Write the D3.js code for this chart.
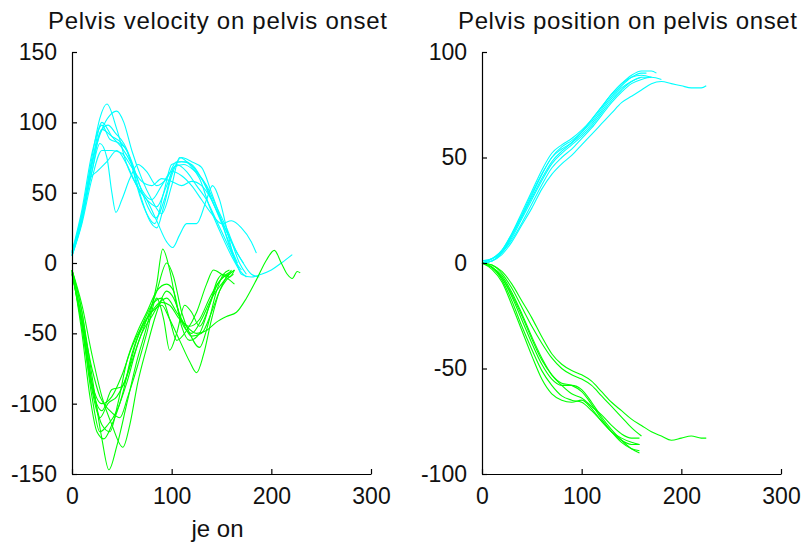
<!DOCTYPE html>
<html>
<head>
<meta charset="utf-8">
<script src="https://cdn.jsdelivr.net/npm/d3@7"></script>
<style>
  html, body { margin: 0; padding: 0; background: #fff; }
  svg { display: block; }
  text { font-family: "Liberation Sans", Arial, Helvetica, sans-serif; fill: #111; }
</style>
</head>
<body>
<svg id="chart" width="805" height="546"></svg>
<script>
// ---------- data ----------
const titles = ["Pelvis velocity on pelvis onset", "Pelvis position on pelvis onset"];
const xLabelLeft = "je on";
const xTicks = [0, 100, 200, 300];
const velTicksY = [-150, -100, -50, 0, 50, 100, 150];
const posTicksY = [-100, -50, 0, 50, 100];
const xDomain = [0, 300];
const velDomain = [-150, 150];
const posDomain = [-100, 100];
const seriesColors = ["#00ffff", "#00ff00"];

// velocity, cyan trials: [time, value]
const velCyan = [
  [[0,8],[10,35],[20,75],[28,103],[35,113],[45,95],[55,70],[65,55],[75,45],[85,40],[95,55],[105,70],[115,65],[125,55],[135,45],[145,30],[155,15],[165,0],[170,-5]],
  [[0,6],[10,30],[20,70],[30,95],[38,105],[45,108],[52,100],[60,80],[70,60],[80,45],[90,35],[100,55],[108,75],[118,70],[128,60],[138,40],[150,20],[160,5],[168,-5],[175,-10]],
  [[0,5],[10,30],[20,65],[30,95],[40,90],[50,85],[58,75],[65,55],[75,35],[83,28],[92,50],[100,70],[110,72],[120,70],[130,60],[140,45],[150,30],[160,15],[170,2],[180,-8],[188,-10]],
  [[0,5],[10,35],[20,65],[28,85],[35,75],[40,50],[44,36],[50,45],[58,60],[66,70],[75,65],[85,55],[95,60],[105,72],[115,72],[125,65],[135,55],[145,40],[155,25],[165,8],[172,0]],
  [[0,7],[10,30],[18,60],[25,65],[35,72],[45,80],[55,70],[65,55],[75,45],[85,30],[95,15],[101,11],[108,20],[115,28],[125,28],[135,45],[141,55],[148,45],[155,25],[162,5],[168,-5]],
  [[0,6],[10,32],[20,70],[30,100],[40,90],[50,82],[60,70],[70,52],[80,45],[90,55],[100,65],[110,62],[120,55],[130,45],[140,35],[150,28],[160,30],[170,25],[180,15],[185,7]],
  [[0,8],[10,38],[20,78],[30,98],[38,88],[48,85],[55,80],[62,65],[70,45],[78,30],[85,25],[92,40],[100,62],[110,75],[120,72],[130,68],[140,50],[150,30],[158,12],[165,0],[170,-8],[180,-10],[190,-8],[200,-5],[210,0],[221,6]],
  [[0,5],[10,28],[20,60],[30,80],[40,80],[50,78],[60,68],[70,58],[80,55],[90,60],[100,58],[110,55],[120,58],[130,55],[140,45],[150,30],[160,15],[168,0],[175,-8]],
  [[0,7],[10,34],[20,72],[28,92],[36,98],[44,92],[52,85],[60,72],[68,55],[76,40],[84,32],[94,48],[102,68],[112,70],[122,66],[132,58],[142,42],[152,25],[160,10],[166,0]]
];

// velocity, green trials
const velGreen = [
  [[0,-5],[10,-35],[20,-80],[30,-125],[37,-147],[45,-130],[55,-100],[65,-70],[75,-45],[85,-15],[91,10],[98,-5],[105,-30],[112,-45],[120,-50],[130,-40],[140,-25],[150,-15],[158,-8],[163,-5]],
  [[0,-8],[10,-45],[20,-95],[28,-120],[36,-115],[45,-105],[55,-85],[65,-60],[75,-40],[85,-20],[95,0],[102,-10],[110,-35],[118,-50],[128,-60],[136,-45],[145,-20],[152,-8],[158,-5]],
  [[0,-5],[10,-50],[18,-95],[25,-120],[32,-125],[40,-115],[50,-95],[60,-65],[70,-45],[80,-30],[90,-25],[98,-40],[105,-55],[115,-48],[125,-35],[135,-15],[142,-5],[150,-8],[158,-12],[163,-15]],
  [[0,-6],[10,-40],[20,-85],[30,-100],[40,-95],[50,-80],[60,-60],[70,-45],[80,-35],[90,-30],[98,-40],[108,-55],[118,-70],[125,-78],[132,-65],[140,-40],[148,-20],[155,-10],[160,-5]],
  [[0,-8],[10,-40],[20,-75],[28,-95],[38,-105],[48,-110],[56,-95],[65,-75],[75,-50],[85,-25],[92,-40],[98,-62],[105,-50],[113,-30],[120,-35],[128,-45],[138,-30],[146,-15],[155,-8],[160,-6]],
  [[0,-5],[10,-30],[20,-65],[30,-95],[40,-115],[51,-131],[58,-115],[66,-85],[75,-60],[85,-35],[95,-20],[102,-25],[110,-40],[120,-52],[130,-50],[140,-35],[148,-20],[155,-12],[162,-8]],
  [[0,-6],[10,-45],[20,-90],[28,-110],[36,-100],[45,-95],[55,-80],[65,-55],[75,-40],[85,-30],[95,-25],[105,-35],[115,-45],[125,-50],[135,-48],[145,-42],[155,-38],[165,-35],[175,-25],[185,-12],[195,2],[203,9],[210,0],[216,-8],[221,-11],[226,-6],[229,-7]],
  [[0,-5],[10,-35],[20,-85],[30,-115],[38,-120],[46,-100],[55,-70],[65,-50],[75,-35],[85,-20],[95,-15],[102,-20],[110,-45],[118,-55],[128,-50],[138,-30],[146,-12],[152,-8],[158,-10],[163,-5]],
  [[0,-7],[10,-42],[20,-88],[30,-105],[40,-90],[50,-88],[60,-70],[70,-50],[80,-38],[90,-28],[98,-30],[108,-40],[118,-45],[128,-40],[138,-25],[146,-15],[152,-10],[158,-8]]
];

// position, cyan trials
const posCyan = [
  [[0,0],[10,1],[20,5],[30,13],[40,22],[50,32],[60,42],[70,50],[80,55],[90,58],[100,62],[110,67],[120,73],[130,79],[140,84],[150,88],[160,90],[165,90]],
  [[0,0],[10,2],[20,6],[30,14],[40,24],[50,34],[60,44],[70,52],[80,56],[90,59],[100,63],[110,68],[120,74],[130,80],[140,85],[150,89],[160,91],[170,91],[175,90]],
  [[0,1],[10,2],[20,5],[30,11],[40,19],[50,28],[60,37],[70,45],[80,50],[90,54],[100,59],[110,64],[120,70],[130,76],[140,81],[150,85],[160,87],[170,88],[180,87]],
  [[0,0],[10,1],[20,4],[30,10],[40,18],[50,26],[60,35],[70,42],[80,47],[90,51],[100,56],[110,61],[120,66],[130,71],[140,76],[150,79],[160,82],[170,85],[180,86],[190,85],[200,84],[210,83],[220,83],[225,84]],
  [[0,1],[10,2],[20,6],[30,14],[40,23],[50,33],[60,42],[70,50],[80,54],[90,57],[100,61],[110,66],[120,72],[130,78],[140,83],[150,86],[160,88],[170,88]],
  [[0,0],[10,1],[20,5],[30,12],[40,21],[50,30],[60,39],[70,47],[80,52],[90,56],[100,60],[110,65],[120,71],[130,77],[140,82],[150,86],[160,88]],
  [[0,0],[10,2],[20,6],[30,13],[40,22],[50,31],[60,40],[70,48],[80,53],[90,57],[100,62],[110,68],[120,74],[130,80],[140,85],[150,88],[160,89],[170,88]]
];

// position, green trials
const posGreen = [
  [[0,0],[10,-1],[20,-4],[30,-10],[40,-18],[50,-26],[60,-35],[70,-43],[80,-48],[90,-51],[100,-53],[110,-56],[120,-61],[130,-66],[140,-70],[150,-74],[160,-77],[170,-80],[180,-82],[190,-84],[200,-83],[210,-82],[220,-83],[225,-83]],
  [[0,0],[10,-1],[20,-5],[30,-12],[40,-21],[50,-30],[60,-38],[70,-45],[80,-50],[90,-53],[100,-55],[110,-58],[120,-63],[130,-68],[140,-73],[150,-78],[160,-82]],
  [[0,0],[10,-2],[20,-7],[30,-16],[40,-27],[50,-38],[60,-48],[70,-55],[80,-58],[90,-58],[100,-60],[110,-66],[120,-73],[130,-79],[140,-84],[150,-88],[158,-90]],
  [[0,0],[10,-2],[20,-8],[30,-18],[40,-30],[50,-41],[60,-51],[70,-58],[80,-63],[90,-65],[100,-66],[110,-70],[120,-75],[130,-80],[140,-84],[150,-86],[158,-86]],
  [[0,0],[10,-2],[20,-7],[30,-15],[40,-25],[50,-36],[60,-46],[70,-53],[80,-57],[90,-58],[100,-61],[110,-67],[120,-74],[130,-80],[140,-85],[150,-88],[158,-89]],
  [[0,0],[10,-2],[20,-6],[30,-14],[40,-24],[50,-35],[60,-45],[70,-53],[80,-58],[90,-62],[100,-64],[110,-68],[120,-72],[130,-77],[140,-81],[150,-83],[158,-83]],
  [[0,0],[10,-3],[20,-9],[30,-20],[40,-32],[50,-44],[60,-55],[70,-62],[80,-65],[90,-66],[100,-65],[110,-69],[120,-75],[130,-80],[140,-83],[150,-85],[158,-86]]
];

// ---------- drawing ----------
const svg = d3.select("#chart");
const plainFormat = d => String(d); // ASCII hyphen-minus like the reference

function drawPanel(opts) {
  const x = d3.scaleLinear().domain(xDomain).range([opts.left, opts.right]);
  const y = d3.scaleLinear().domain(opts.yDomain).range([opts.bottom, opts.top]);
  const g = svg.append("g");

  const line = d3.line()
    .x(d => x(d[0]))
    .y(d => y(d[1]))
    .curve(d3.curveMonotoneX);

  opts.groups.forEach((grp, gi) => {
    g.append("g").selectAll("path")
      .data(grp)
      .join("path")
      .attr("d", line)
      .attr("fill", "none")
      .attr("stroke", seriesColors[gi])
      .attr("stroke-width", 1.1);
  });

  // axes (MATLAB style: ticks inward)
  const xAxis = d3.axisBottom(x).tickValues(xTicks).tickFormat(plainFormat)
    .tickSizeInner(-5).tickSizeOuter(0).tickPadding(14);
  const yAxis = d3.axisLeft(y).tickValues(opts.yTicks).tickFormat(plainFormat)
    .tickSizeInner(-5).tickSizeOuter(0).tickPadding(15);

  const gx = g.append("g").attr("transform", `translate(0,${opts.bottom})`).call(xAxis);
  const gy = g.append("g").attr("transform", `translate(${opts.left},0)`).call(yAxis);

  [gx, gy].forEach(a => {
    a.select(".domain").attr("stroke", "#000").attr("stroke-width", 1.2);
    a.selectAll(".tick line").attr("stroke", "#000").attr("stroke-width", 1.2);
    a.selectAll(".tick text")
      .attr("font-family", "Liberation Sans, Arial, sans-serif")
      .attr("font-size", 23)
      .attr("fill", "#111");
  });
  gx.selectAll(".tick text").attr("dy", "0.71em");

  // title
  g.append("text")
    .attr("x", (opts.left + opts.right) / 2 - 4)
    .attr("y", 29)
    .attr("text-anchor", "middle")
    .attr("font-size", 24)
    .attr("textLength", 339)
    .attr("lengthAdjust", "spacing")
    .text(opts.title);

  if (opts.xLabel) {
    g.append("text")
      .attr("x", (opts.left + opts.right) / 2 - 4)
      .attr("y", 537)
      .attr("text-anchor", "middle")
      .attr("font-size", 24)
      .text(opts.xLabel);
  }
}

drawPanel({
  left: 72, right: 371, top: 52, bottom: 474,
  yDomain: velDomain, yTicks: velTicksY,
  groups: [velCyan, velGreen],
  title: titles[0], xLabel: xLabelLeft
});

drawPanel({
  left: 482, right: 781, top: 52, bottom: 474,
  yDomain: posDomain, yTicks: posTicksY,
  groups: [posCyan, posGreen],
  title: titles[1], xLabel: null
});
</script>
</body>
</html>
